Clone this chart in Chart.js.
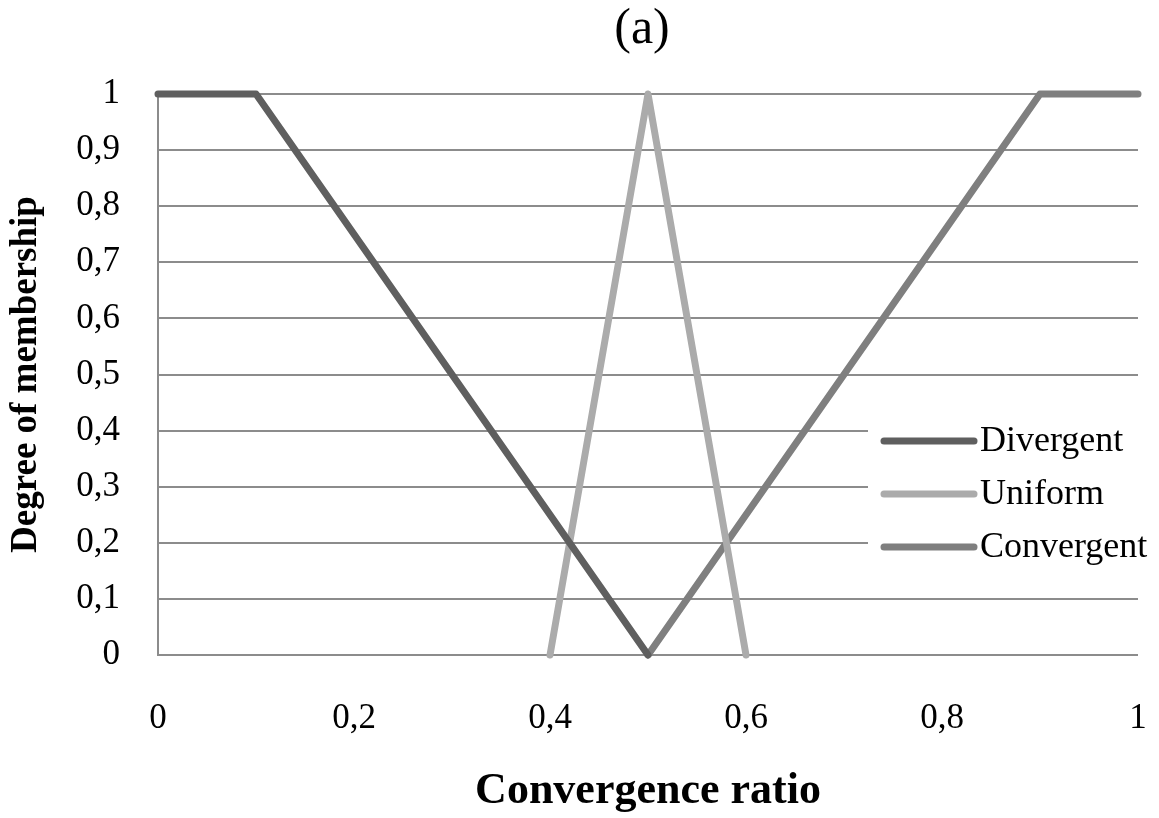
<!DOCTYPE html>
<html>
<head>
<meta charset="utf-8">
<script src="https://cdn.jsdelivr.net/npm/chart.js@4.4.0/dist/chart.umd.min.js"></script>
<style>
  html, body { margin: 0; padding: 0; background: #fff; }
  #wrap { width: 1159px; height: 818px; }
</style>
</head>
<body>
<div id="wrap"><canvas id="chart" width="1159" height="818"></canvas></div>
<script>
const chartTitle = '(a)';
const seriesNames = ['Divergent', 'Uniform', 'Convergent'];
const divergentX = [0, 0.1, 0.5];
const divergentY = [1, 1, 0];
const uniformX = [0.4, 0.5, 0.6];
const uniformY = [0, 1, 0];
const convergentX = [0.5, 0.9, 1];
const convergentY = [0, 1, 1];
const xTickLabels = ['0', '0,2', '0,4', '0,6', '0,8', '1'];
const yTickLabels = ['0', '0,1', '0,2', '0,3', '0,4', '0,5', '0,6', '0,7', '0,8', '0,9', '1'];

const serif = '"Liberation Serif", "Times New Roman", serif';

function points(xs, ys) {
    return xs.map((x, i) => ({ x: x, y: ys[i] }));
}

function lineSet(label, xs, ys, color) {
    return {
        label: label,
        data: points(xs, ys),
        borderColor: color,
        backgroundColor: color,
        borderWidth: 7,
        borderCapStyle: 'round',
        borderJoinStyle: 'round',
        pointRadius: 0,
        showLine: true,
        tension: 0,
        clip: false
    };
}

// title centred over the plot area rather than the whole canvas
const plotTitle = {
    id: 'plotTitle',
    afterDraw(chart) {
        const ctx = chart.ctx;
        const area = chart.chartArea;
        ctx.save();
        ctx.font = '50px ' + serif;
        ctx.fillStyle = '#000';
        ctx.textAlign = 'center';
        ctx.textBaseline = 'middle';
        ctx.fillText(chartTitle, (area.left + area.right) / 2 - 6, 30);
        ctx.restore();
    }
};

// legend drawn inside the plot, right side, with a white backing box
const insideLegend = {
    id: 'insideLegend',
    afterDatasetsDraw(chart) {
        const ctx = chart.ctx;
        const area = chart.chartArea;
        const x0 = area.right - 270;
        const y0 = area.top + 347;
        ctx.save();
        ctx.fillStyle = '#fff';
        ctx.fillRect(x0, y0 - 30, chart.width - x0, 160);
        ctx.font = '36px ' + serif;
        ctx.textBaseline = 'middle';
        ctx.textAlign = 'left';
        chart.data.datasets.forEach((ds, i) => {
            const y = y0 + i * 53;
            ctx.strokeStyle = ds.borderColor;
            ctx.lineWidth = 7;
            ctx.lineCap = 'round';
            ctx.beginPath();
            ctx.moveTo(x0 + 16, y);
            ctx.lineTo(x0 + 106, y);
            ctx.stroke();
            ctx.fillStyle = '#000';
            ctx.fillText(ds.label, x0 + 112, y + 1);
        });
        ctx.restore();
    }
};

const config = {
    type: 'scatter',
    data: {
        datasets: [
            lineSet(seriesNames[0], divergentX, divergentY, '#5f5f5f'),
            lineSet(seriesNames[1], uniformX, uniformY, '#ababab'),
            lineSet(seriesNames[2], convergentX, convergentY, '#7f7f7f')
        ]
    },
    options: {
        responsive: false,
        animation: false,
        layout: { padding: { left: 0, right: 21, top: 94, bottom: 0 } },
        plugins: {
            legend: { display: false },
            tooltip: { enabled: false },
            title: { display: false }
        },
        scales: {
            x: {
                type: 'linear',
                min: 0,
                max: 1,
                grid: { display: false },
                border: { display: false },
                ticks: {
                    stepSize: 0.2,
                    padding: 35,
                    color: '#000',
                    maxRotation: 0,
                    font: { family: serif, size: 35 },
                    callback: (v, i) => xTickLabels[i]
                },
                title: {
                    display: true,
                    text: 'Convergence ratio',
                    color: '#000',
                    font: { family: serif, size: 44, weight: 'bold' },
                    padding: { top: 0, bottom: 0 }
                },
                afterFit(scale) {
                    scale.height = 163;
                    scale.paddingLeft = 0;
                    scale.paddingRight = 0;
                }
            },
            y: {
                type: 'linear',
                min: 0,
                max: 1,
                grid: { color: '#8c8c8c', lineWidth: 2, drawTicks: false },
                border: { display: true, color: '#8c8c8c', width: 2 },
                ticks: {
                    stepSize: 0.1,
                    padding: 38,
                    color: '#000',
                    font: { family: serif, size: 35 },
                    callback: (v, i) => yTickLabels[i]
                },
                title: {
                    display: true,
                    text: 'Degree of membership',
                    color: '#000',
                    font: { family: serif, size: 37, weight: 'bold' },
                    padding: { top: 4, bottom: 0 }
                },
                afterFit(scale) {
                    scale.width = 158;
                    scale.paddingTop = 0;
                    scale.paddingBottom = 0;
                }
            }
        }
    },
    plugins: [insideLegend, plotTitle]
};

var chart = new Chart(document.getElementById('chart'), config);
</script>
</body>
</html>
